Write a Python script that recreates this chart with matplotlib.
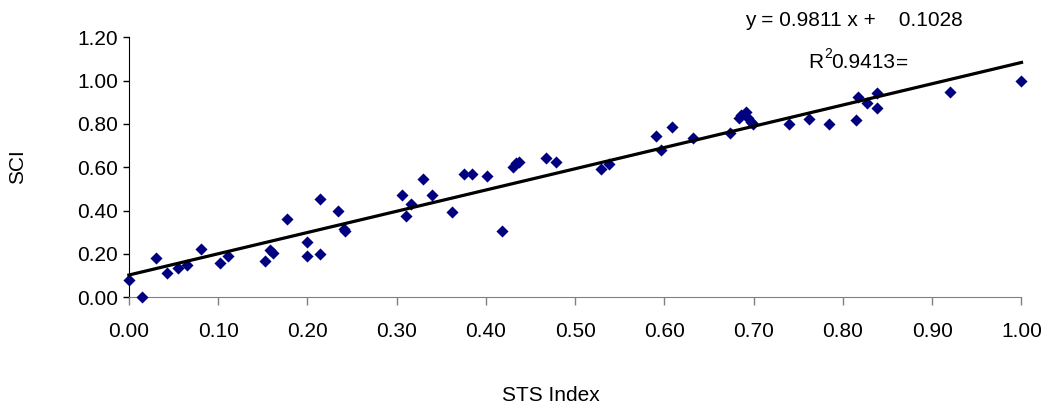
import matplotlib
matplotlib.use('Agg')
import matplotlib.pyplot as plt
import numpy as np

plt.rcParams['font.family'] = ['Liberation Sans', 'DejaVu Sans']

# ── DATA ─────────────────────────────────────────────────────────────────
sts = [0.000, 0.015, 0.030, 0.043, 0.055, 0.065, 0.081, 0.102, 0.111, 0.152,
       0.158, 0.162, 0.177, 0.199, 0.199, 0.214, 0.214, 0.234, 0.241, 0.242,
       0.306, 0.311, 0.316, 0.329, 0.340, 0.362, 0.375, 0.384, 0.401, 0.418,
       0.430, 0.434, 0.437, 0.467, 0.479, 0.529, 0.538, 0.591, 0.596, 0.609,
       0.632, 0.673, 0.683, 0.686, 0.691, 0.694, 0.697, 0.699, 0.739, 0.762,
       0.784, 0.815, 0.817, 0.827, 0.838, 0.838, 0.920, 1.000]
sci = [0.080, 0.000, 0.183, 0.111, 0.134, 0.149, 0.224, 0.157, 0.191, 0.168,
       0.218, 0.206, 0.360, 0.255, 0.191, 0.456, 0.198, 0.400, 0.314, 0.306,
       0.472, 0.374, 0.429, 0.545, 0.472, 0.392, 0.568, 0.568, 0.560, 0.306,
       0.603, 0.618, 0.624, 0.641, 0.624, 0.591, 0.615, 0.744, 0.680, 0.785,
       0.737, 0.760, 0.828, 0.840, 0.854, 0.826, 0.808, 0.799, 0.800, 0.825,
       0.800, 0.818, 0.923, 0.895, 0.941, 0.872, 0.946, 1.000]

slope, intercept, r2 = 0.9811, 0.1028, 0.9413

x_ticks = np.arange(0, 1.01, 0.1)
y_ticks = np.arange(0, 1.21, 0.2)

NAVY = '#000080'
FS = 15

# ── PLOT ──────────────────────────────────────────────────────────────────
fig = plt.figure(figsize=(10.52, 4.08), dpi=100)
fig.patch.set_facecolor('white')
ax = fig.add_axes([0.1225, 0.2713, 0.8485, 0.6373])

ax.scatter(sts, sci, marker='D', s=38, color=NAVY, linewidths=0,
           zorder=3, clip_on=False)

xl = np.array([0.0, 1.0])
ax.plot(xl, slope * xl + intercept, color='black', linewidth=2.3,
        zorder=4, clip_on=False)

ax.set_xlim(0, 1)
ax.set_ylim(0, 1.2)
ax.set_xticks(x_ticks)
ax.set_yticks(y_ticks)
ax.set_xticklabels([f'{v:.2f}' for v in x_ticks], fontsize=FS)
ax.set_yticklabels([f'{v:.2f}' for v in y_ticks], fontsize=FS)
ax.tick_params(axis='x', direction='out', length=6, width=1,
               color='#808080', pad=12)
ax.tick_params(axis='y', direction='out', length=4, width=1,
               color='black', pad=4)

ax.spines['top'].set_visible(False)
ax.spines['right'].set_visible(False)
ax.spines['left'].set_color('black')
ax.spines['bottom'].set_color('#808080')

fig.text(0.017, 0.591, 'SCI', rotation=90, ha='center', va='center',
         fontsize=FS)
fig.text(0.524, 0.03, 'STS Index', ha='center', va='center', fontsize=FS)

# trendline equation and R squared, laid out as separate text pieces
fig.text(745 / 1052, 1 - 20 / 408,
         f'y = {slope:.4f} x +    {intercept:.4f}',
         ha='left', va='center', fontsize=FS)
fig.text(808 / 1052, 1 - 63 / 408, 'R', ha='left', va='center', fontsize=FS)
fig.text(824 / 1052, 1 - 54 / 408, '2', ha='left', va='center', fontsize=10)
fig.text(831 / 1052, 1 - 63 / 408, f'{r2:.4f}', ha='left', va='center',
         fontsize=FS)
fig.text(896 / 1052, 1 - 63 / 408, '=', ha='left', va='center', fontsize=FS)

fig.savefig('out.png', dpi=100, facecolor='white')
plt.close(fig)
